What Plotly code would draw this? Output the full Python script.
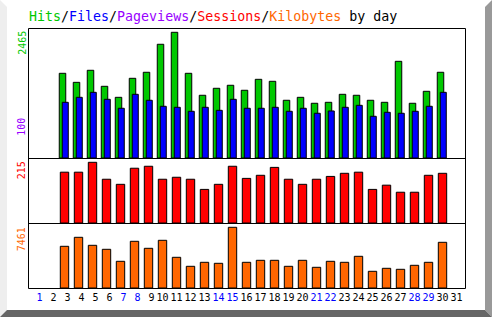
import plotly.graph_objects as go

W, H = 492, 317

days = list(range(1, 32))
hits = [None, None, 1661, 1484, 1720, 1406, 1190, 1563, 1681, 2230, 2465, 1661, 1230, 1367, 1426,
        1328, 1543, 1504, 1132, 1190, 1073, 1092, 1249, 1230, 1132, 1092, 1896, 1073, 1308, 1681, None]
files = [None, None, 1092, 1190, 1288, 1151, 975, 1249, 1132, 1014, 994, 916, 994, 935, 1151,
         975, 975, 994, 916, 975, 877, 922, 994, 1033, 818, 896, 877, 916, 1014, 1288, None]
sessions = [None, None, 180, 180, 215, 155, 137, 194, 201, 155, 162, 155, 119, 137, 201,
            158, 169, 197, 155, 137, 155, 165, 176, 180, 119, 134, 109, 109, 169, 176, None]
kbytes = [None, None, 5126, 6232, 5249, 4757, 3282, 5740, 4880, 5863, 3774, 2667, 3159, 3036, 7461,
          3159, 3405, 3405, 2667, 3405, 2544, 3282, 3159, 3896, 2053, 2421, 2299, 2790, 3159, 5617, None]
weekend_days = [1, 7, 8, 14, 15, 21, 22, 28, 29]
max_hits_label = "2465"
max_pages_label = "100"
max_sessions_label = "215"
max_kbytes_label = "7461"

GREEN = "#00c800"
BLUE = "#0000ff"
PURPLE = "#9900ff"
RED = "#ff0000"
ORANGE = "#ff6600"
MONO = "DejaVu Sans Mono"


def px_x(x):
    return x / W


def px_y(y):
    return 1 - y / H


def vmax(vals):
    return max(v for v in vals if v is not None)


fig = go.Figure()
line = dict(color="black", width=1)
fig.add_trace(go.Bar(x=days, y=hits, marker=dict(color=GREEN, line=line),
                     offset=-0.375, width=0.464, xaxis="x", yaxis="y"))
fig.add_trace(go.Bar(x=days, y=files, marker=dict(color=BLUE, line=line),
                     offset=-0.16, width=0.43, xaxis="x", yaxis="y"))
fig.add_trace(go.Bar(x=days, y=sessions, marker=dict(color=RED, line=line),
                     offset=-0.3, width=0.6, xaxis="x2", yaxis="y2"))
fig.add_trace(go.Bar(x=days, y=kbytes, marker=dict(color=ORANGE, line=line),
                     offset=-0.3, width=0.6, xaxis="x3", yaxis="y3"))

xr = [(28 - 22.5) / 14, (466 - 22.5) / 14]
xdom = [px_x(28), px_x(466)]
ticktext = []
for d in days:
    s = f"{d:>2}".replace(" ", "\u00a0")
    col = BLUE if d in weekend_days else "black"
    ticktext.append(f"<span style='color:{col}'>{s}</span>")

ax_common = dict(showline=False, showgrid=False, zeroline=False, fixedrange=True)

fig.update_layout(
    width=W, height=H,
    margin=dict(l=0, r=0, t=0, b=0),
    paper_bgcolor="white", plot_bgcolor="white",
    showlegend=False, barmode="overlay",
    xaxis=dict(domain=xdom, range=xr, anchor="y", showticklabels=False, **ax_common),
    xaxis2=dict(domain=xdom, range=xr, anchor="y2", matches="x", showticklabels=False, **ax_common),
    xaxis3=dict(domain=xdom, range=xr, anchor="y3", matches="x", tickmode="array",
                tickvals=days, ticktext=ticktext, ticks="", tickangle=0, ticklabelstandoff=2,
                tickfont=dict(family=MONO, size=10, color="black"), **ax_common),
    yaxis=dict(domain=[px_y(158), px_y(28)], range=[0, vmax(hits) * 130 / 125.7],
               anchor="x", showticklabels=False, **ax_common),
    yaxis2=dict(domain=[px_y(223), px_y(158)], range=[0, vmax(sessions) * 65 / 60.7],
                anchor="x2", showticklabels=False, **ax_common),
    yaxis3=dict(domain=[px_y(288), px_y(223)], range=[0, vmax(kbytes) * 65 / 60.7],
                anchor="x3", showticklabels=False, **ax_common),
)

title = (f"<span style='color:{GREEN}'>Hits</span>/"
         f"<span style='color:{BLUE}'>Files</span>/"
         f"<span style='color:{PURPLE}'>Pageviews</span>/"
         f"<span style='color:{RED}'>Sessions</span>/"
         f"<span style='color:{ORANGE}'>Kilobytes</span> by day")
fig.add_annotation(text=title, xref="paper", yref="paper", x=px_x(27), y=px_y(16.5),
                   xanchor="left", yanchor="middle", showarrow=False,
                   font=dict(family=MONO, size=13.3, color="black"))

for txt, col, ytop in [(max_hits_label, GREEN, 29), (max_pages_label, PURPLE, 116),
                       (max_sessions_label, RED, 159.5), (max_kbytes_label, ORANGE, 225.5)]:
    fig.add_annotation(text=txt, xref="paper", yref="paper", x=px_x(21.7), y=px_y(ytop),
                       xanchor="center", yanchor="top", textangle=-90, showarrow=False,
                       font=dict(family=MONO, size=10, color=col))


def path(pts):
    return "M " + " L ".join(f"{px_x(x)},{px_y(y)}" for x, y in pts) + " Z"


for pts, col in [([(0, 0), (7, 7), (7, 310), (0, 317)], "#eeeeee"),
                 ([(492, 0), (485, 7), (485, 310), (492, 317)], "#999999"),
                 ([(0, 317), (7, 310), (485, 310), (492, 317)], "#666666")]:
    fig.add_shape(type="path", path=path(pts), xref="paper", yref="paper",
                  fillcolor=col, line=dict(width=0), layer="below")

# frame: outer rectangle and panel separators
frame = dict(color="black", width=1)
fig.add_shape(type="rect", xref="paper", yref="paper",
              x0=px_x(28.5), x1=px_x(465.5), y0=px_y(288.5), y1=px_y(28.5),
              line=frame, layer="above")
for yy in (158.5, 223.5):
    fig.add_shape(type="line", xref="paper", yref="paper",
                  x0=px_x(28.5), x1=px_x(465.5), y0=px_y(yy), y1=px_y(yy),
                  line=frame, layer="above")

fig.write_html("out.html")
